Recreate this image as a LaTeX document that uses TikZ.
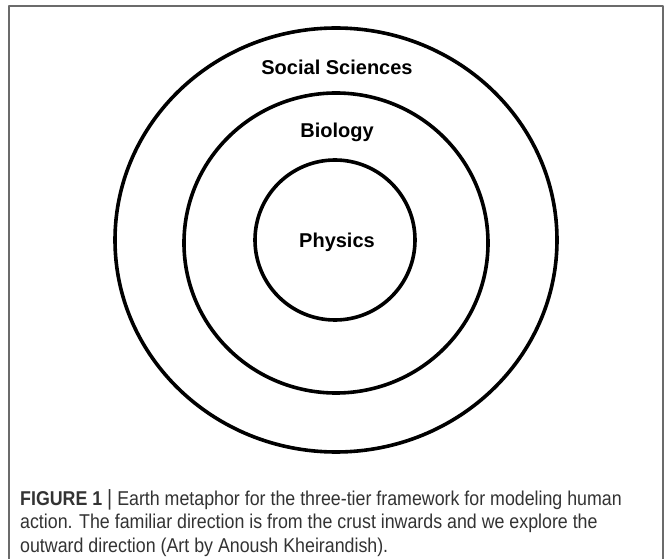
\documentclass[tikz,border=0pt]{standalone}
\usepackage{fontspec}
\setmainfont{Liberation Sans}
\newfontfamily\capfont[FakeStretch=0.89]{Liberation Sans}
\usetikzlibrary{positioning}
\definecolor{frmgray}{rgb}{0.42,0.42,0.42}
\definecolor{captxt}{rgb}{0.2,0.2,0.2}
\tikzset{ring/.style={line width=3.6pt},
  tierlabel/.style={font=\fontsize{20}{23}\selectfont\bfseries},
  capline/.style={anchor=base west,inner sep=0pt,text=captxt,font=\capfont\fontsize{20}{23}\selectfont}}
\begin{document}
\begin{tikzpicture}[line cap=round,line join=round,x=1pt,y=-1pt]
\clip(0,0) rectangle (665,559);
\fill[white] (0,0) rectangle (665,559);
\draw [line width=1.6pt,color=frmgray] (9,575)-- (9,6)-- (663,6)-- (663,575);
% three tiers
\draw [ring] (336,240) ellipse (221pt and 212pt);
\draw [ring] (336,243) ellipse (152pt and 150pt);
\draw [ring] (335,240) ellipse (80pt and 80pt);
\node [tierlabel] (social) at (337,67) {Social Sciences};
\node [tierlabel] (biology) at (337,132) {Biology};
\node [tierlabel] (physics) at (337,242) {Physics};
% caption
\node [capline] (capa) at (20,505) {\textbf{FIGURE 1} {\fontsize{22}{23}\selectfont|} Earth metaphor for the three-tier framework for modeling human};
\node [capline] (capb) at ([yshift=-23.5pt]capa.base west) {action. The familiar direction is from the crust inwards and we explore the};
\node [capline] (capc) at ([yshift=-23.5pt]capb.base west) {outward direction (Art by Anoush Kheirandish).};
\end{tikzpicture}
\end{document}
